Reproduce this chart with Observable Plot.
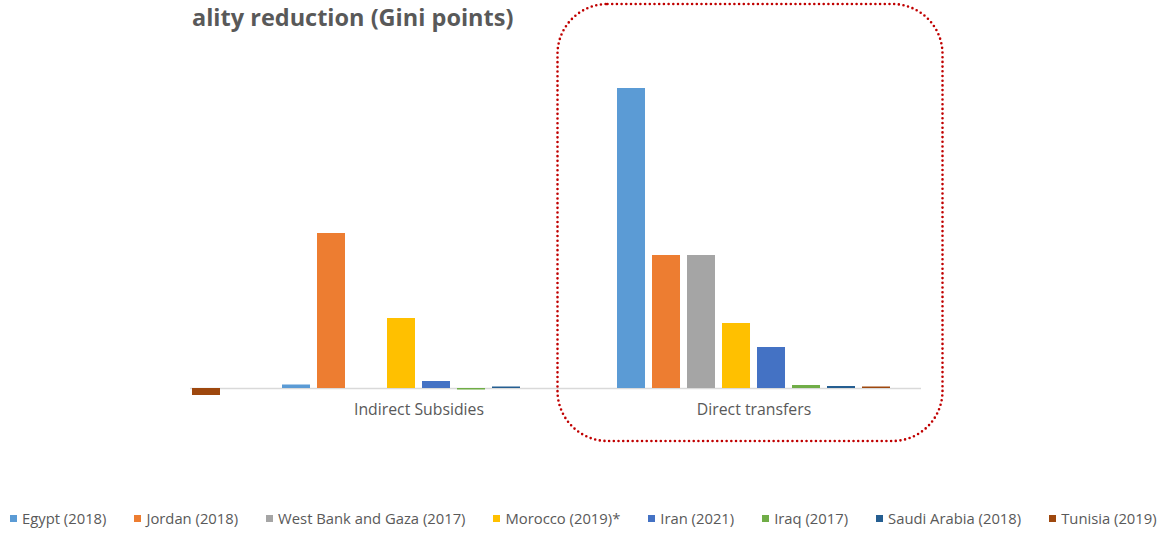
<!DOCTYPE html>
<html>
<head>
<meta charset="utf-8">
<script src="https://cdn.jsdelivr.net/npm/d3@7"></script>
<script src="https://cdn.jsdelivr.net/npm/@observablehq/plot@0.6"></script>
<style>
  body { margin: 0; width: 1160px; height: 533px; position: relative; background: #fff; overflow: hidden; font-family: "Open Sans", sans-serif; }
  #title { position: absolute; left: 192px; top: 1px; font-weight: bold; font-size: 23.5px; color: #595959; white-space: nowrap; }
  #chart { position: absolute; left: 190px; top: 0; width: 970px; height: 460px; overflow: hidden; }
  #chart svg { margin-left: -290px; max-width: none; }
  #frame { position: absolute; left: 0; top: 0; pointer-events: none; }
  #legend { position: absolute; left: 10px; top: 508px; }
  .lg-swatches { display: flex; flex-wrap: nowrap; margin: 0 !important; min-height: 0; font-family: "Open Sans", sans-serif; font-size: 14.8px; color: #595959; }
  .lg-swatch { margin-right: 28px !important; white-space: nowrap; }
  .lg-swatch svg { margin-right: 5px !important; }
</style>
</head>
<body>
<div id="title">ality reduction (Gini points)</div>
<div id="chart"></div>
<svg id="frame" width="1160" height="533"></svg>
<div id="legend"></div>
<script>
const countries = ["Egypt (2018)", "Jordan (2018)", "West Bank and Gaza (2017)", "Morocco (2019)*", "Iran (2021)", "Iraq (2017)", "Saudi Arabia (2018)", "Tunisia (2019)"];
const colors = ["#5B9BD5", "#ED7D31", "#A5A5A5", "#FFC000", "#4472C4", "#70AD47", "#255E91", "#9E480E"];
const categories = ["(cropped)", "Indirect Subsidies", "Direct transfers"];
// the left-most group is cut off in the reference; only its Tunisia bar is visible
const croppedGroup = [null, null, null, null, null, null, null, -0.07];
const indirectSubsidies = [0.035, 1.55, 0, 0.70, 0.07, -0.015, 0.015, 0];
const directTransfers = [3.0, 1.33, 1.33, 0.65, 0.41, 0.03, 0.02, 0.015];

const series = [croppedGroup, indirectSubsidies, directTransfers];
const rows = [];
categories.forEach((cat, i) => {
  countries.forEach((c, j) => {
    const v = series[i][j];
    if (v !== null) rows.push({category: cat, country: c, value: v});
  });
});

const chart = Plot.plot({
  width: 1260,
  height: 440,
  marginLeft: 17,
  marginRight: 240,
  marginTop: 68,
  marginBottom: 42,
  style: {fontFamily: '"Open Sans", sans-serif', fontSize: "15.8px", color: "#595959", background: "transparent"},
  fx: {domain: categories, paddingInner: 0.1642, paddingOuter: 0.0791, round: false, axis: "bottom", label: null, tickSize: 0, tickPadding: 5, tickFormat: d => d === categories[0] ? "" : d},
  x: {domain: countries, paddingInner: 0.2, paddingOuter: 0.1, round: false, axis: null},
  y: {domain: [-0.1, 3.2], axis: null},
  color: {domain: countries, range: colors},
  marks: [
    Plot.ruleY([0], {stroke: "#d9d9d9", strokeWidth: 1.3, insetLeft: -27.5, insetRight: -27.5}),
    Plot.barY(rows, {fx: "category", x: "country", y: "value", fill: "country"})
  ]
});
document.getElementById("chart").appendChild(chart);

const legend = Plot.legend({
  legend: "swatches",
  color: {domain: countries, range: colors},
  swatchSize: 7,
  className: "lg"
});
document.getElementById("legend").appendChild(legend);

// dotted rounded highlight around the "Direct transfers" group
d3.select("#frame").append("rect")
  .attr("x", 557.5).attr("y", 4).attr("width", 385).attr("height", 437)
  .attr("rx", 50).attr("ry", 50)
  .attr("fill", "none").attr("stroke", "#C00000").attr("stroke-width", 2.6)
  .attr("stroke-dasharray", "0 4.7").attr("stroke-linecap", "round");
</script>
</body>
</html>
